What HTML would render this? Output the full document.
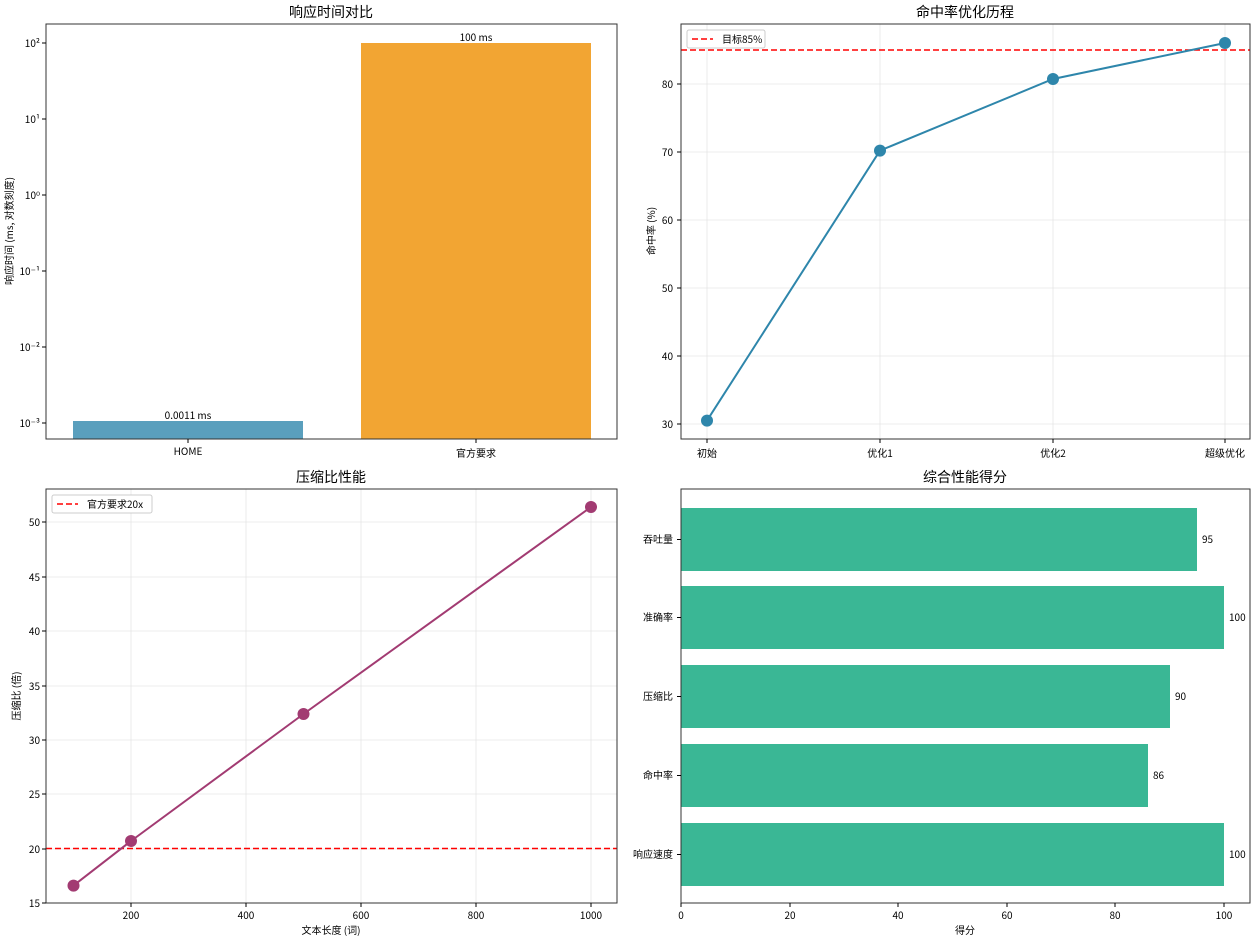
<!DOCTYPE html>
<html><head><meta charset="utf-8"><style>
body{margin:0;background:#fff}
svg{display:block;font-family:"Liberation Sans","Noto Sans CJK SC",sans-serif}
.t{font-size:14px;fill:#000;text-anchor:middle;font-family:"Noto Sans CJK SC","Liberation Sans",sans-serif}
.k{font-size:10px;fill:#000;font-family:"Noto Sans CJK SC","Liberation Sans",sans-serif}
.g{stroke:#e6e6e6;stroke-width:0.8}
.ax{fill:none;stroke:#333;stroke-width:1}
.tk line{stroke:#000;stroke-width:1}
</style></head><body>
<svg width="1251" height="940" viewBox="0 0 1251 940">
<!-- Panel 1 -->
<text class="t" x="331" y="17">响应时间对比</text>
<rect x="73" y="421" width="230" height="18" fill="#5a9fbd"/>
<rect x="361" y="43" width="230" height="396" fill="#f2a533"/>
<text class="k" x="188" y="419" text-anchor="middle">0.0011 ms</text>
<text class="k" x="476" y="41" text-anchor="middle">100 ms</text>
<rect class="ax" x="46" y="24" width="571" height="415"/>
<g class="k" text-anchor="end">
<text x="40" y="47">10²</text><text x="40" y="123">10¹</text><text x="40" y="199">10⁰</text>
<text x="40" y="275">10⁻¹</text><text x="40" y="351">10⁻²</text><text x="40" y="427">10⁻³</text>
</g>
<g stroke="#000" stroke-width="1">
<line x1="42" y1="43" x2="46" y2="43"/><line x1="42" y1="119" x2="46" y2="119"/><line x1="42" y1="195" x2="46" y2="195"/>
<line x1="42" y1="271" x2="46" y2="271"/><line x1="42" y1="347" x2="46" y2="347"/><line x1="42" y1="423" x2="46" y2="423"/>
<line x1="188" y1="439" x2="188" y2="443"/><line x1="476" y1="439" x2="476" y2="443"/>
</g>
<text class="k" x="188" y="455" text-anchor="middle">HOME</text>
<text class="k" x="476" y="457" text-anchor="middle">官方要求</text>
<text class="k" transform="translate(13,231) rotate(-90)" text-anchor="middle">响应时间 (ms, 对数刻度)</text>

<!-- Panel 2 -->
<text class="t" x="965" y="17">命中率优化历程</text>
<g class="g">
<line x1="681" y1="84" x2="1250" y2="84"/><line x1="681" y1="152" x2="1250" y2="152"/><line x1="681" y1="220" x2="1250" y2="220"/>
<line x1="681" y1="288" x2="1250" y2="288"/><line x1="681" y1="356" x2="1250" y2="356"/><line x1="681" y1="424" x2="1250" y2="424"/>
<line x1="707" y1="24" x2="707" y2="439"/><line x1="880" y1="24" x2="880" y2="439"/><line x1="1053" y1="24" x2="1053" y2="439"/><line x1="1225" y1="24" x2="1225" y2="439"/>
</g>
<line x1="681" y1="50" x2="1250" y2="50" stroke="#f00" stroke-width="1.5" stroke-dasharray="6,3"/>
<polyline points="707,420.6 880,150.6 1053,79 1225,43" fill="none" stroke="#2e86ab" stroke-width="2"/>
<g fill="#2e86ab"><circle cx="707" cy="420.6" r="6"/><circle cx="880" cy="150.6" r="6"/><circle cx="1053" cy="79" r="6"/><circle cx="1225" cy="43" r="6"/></g>
<rect class="ax" x="681" y="24" width="569" height="415"/>
<g class="tk">
<line x1="677" y1="84" x2="681" y2="84"/><line x1="677" y1="152" x2="681" y2="152"/><line x1="677" y1="220" x2="681" y2="220"/>
<line x1="677" y1="288" x2="681" y2="288"/><line x1="677" y1="356" x2="681" y2="356"/><line x1="677" y1="424" x2="681" y2="424"/>
<line x1="707" y1="439" x2="707" y2="443"/><line x1="880" y1="439" x2="880" y2="443"/><line x1="1053" y1="439" x2="1053" y2="443"/><line x1="1225" y1="439" x2="1225" y2="443"/>
</g>
<rect x="687" y="30" width="78" height="18" fill="#fff" stroke="#ccc" rx="2"/>
<line x1="692" y1="39" x2="713" y2="39" stroke="#f00" stroke-width="1.5" stroke-dasharray="6,3"/>
<text class="k" x="722" y="43">目标85%</text>
<g class="k" text-anchor="end">
<text x="673" y="88">80</text><text x="673" y="156">70</text><text x="673" y="224">60</text>
<text x="673" y="292">50</text><text x="673" y="360">40</text><text x="673" y="428">30</text>
</g>
<g class="k" text-anchor="middle">
<text x="707" y="457">初始</text><text x="880" y="457">优化1</text><text x="1053" y="457">优化2</text><text x="1225" y="457">超级优化</text>
</g>
<text class="k" transform="translate(655,231) rotate(-90)" text-anchor="middle">命中率 (%)</text>

<!-- Panel 3 -->
<text class="t" x="331" y="482">压缩比性能</text>
<g class="g">
<line x1="46" y1="522" x2="617" y2="522"/><line x1="46" y1="577" x2="617" y2="577"/><line x1="46" y1="631" x2="617" y2="631"/>
<line x1="46" y1="686" x2="617" y2="686"/><line x1="46" y1="740" x2="617" y2="740"/><line x1="46" y1="794" x2="617" y2="794"/>
<line x1="46" y1="849" x2="617" y2="849"/>
<line x1="131" y1="489" x2="131" y2="903"/><line x1="246" y1="489" x2="246" y2="903"/><line x1="361" y1="489" x2="361" y2="903"/>
<line x1="476" y1="489" x2="476" y2="903"/><line x1="591" y1="489" x2="591" y2="903"/>
</g>
<line x1="46" y1="848.5" x2="617" y2="848.5" stroke="#f00" stroke-width="1.5" stroke-dasharray="6,3"/>
<polyline points="73.5,885.6 131,841 303.5,714 591,507" fill="none" stroke="#a23b72" stroke-width="2"/>
<g fill="#a23b72"><circle cx="73.5" cy="885.6" r="6"/><circle cx="131" cy="841" r="6"/><circle cx="303.5" cy="714" r="6"/><circle cx="591" cy="507" r="6"/></g>
<rect class="ax" x="46" y="489" width="571" height="414"/>
<g class="tk">
<line x1="42" y1="522" x2="46" y2="522"/><line x1="42" y1="577" x2="46" y2="577"/><line x1="42" y1="631" x2="46" y2="631"/>
<line x1="42" y1="686" x2="46" y2="686"/><line x1="42" y1="740" x2="46" y2="740"/><line x1="42" y1="794" x2="46" y2="794"/>
<line x1="42" y1="849" x2="46" y2="849"/><line x1="42" y1="903" x2="46" y2="903"/>
<line x1="131" y1="903" x2="131" y2="907"/><line x1="246" y1="903" x2="246" y2="907"/><line x1="361" y1="903" x2="361" y2="907"/>
<line x1="476" y1="903" x2="476" y2="907"/><line x1="591" y1="903" x2="591" y2="907"/>
</g>
<rect x="52" y="495" width="100" height="18" fill="#fff" stroke="#ccc" rx="2"/>
<line x1="57" y1="504" x2="78" y2="504" stroke="#f00" stroke-width="1.5" stroke-dasharray="6,3"/>
<text class="k" x="87" y="508">官方要求20x</text>
<g class="k" text-anchor="end">
<text x="40" y="526">50</text><text x="40" y="581">45</text><text x="40" y="635">40</text><text x="40" y="690">35</text>
<text x="40" y="744">30</text><text x="40" y="798">25</text><text x="40" y="853">20</text><text x="40" y="907">15</text>
</g>
<g class="k" text-anchor="middle">
<text x="131" y="919">200</text><text x="246" y="919">400</text><text x="361" y="919">600</text><text x="476" y="919">800</text><text x="591" y="919">1000</text>
</g>
<text class="k" x="331" y="934" text-anchor="middle">文本长度 (词)</text>
<text class="k" transform="translate(20,696) rotate(-90)" text-anchor="middle">压缩比 (倍)</text>

<!-- Panel 4 -->
<text class="t" x="965" y="482">综合性能得分</text>
<g fill="#3ab795">
<rect x="681" y="508" width="516" height="63"/>
<rect x="681" y="586" width="543" height="63"/>
<rect x="681" y="665" width="489" height="63"/>
<rect x="681" y="744" width="467" height="63"/>
<rect x="681" y="823" width="543" height="63"/>
</g>
<rect class="ax" x="681" y="489" width="569" height="414"/>
<g class="tk">
<line x1="677" y1="539.5" x2="681" y2="539.5"/><line x1="677" y1="617.5" x2="681" y2="617.5"/><line x1="677" y1="696.5" x2="681" y2="696.5"/>
<line x1="677" y1="775.5" x2="681" y2="775.5"/><line x1="677" y1="854.5" x2="681" y2="854.5"/>
<line x1="681" y1="903" x2="681" y2="907"/><line x1="790" y1="903" x2="790" y2="907"/><line x1="898" y1="903" x2="898" y2="907"/>
<line x1="1007" y1="903" x2="1007" y2="907"/><line x1="1115" y1="903" x2="1115" y2="907"/><line x1="1224" y1="903" x2="1224" y2="907"/>
</g>
<g class="k">
<text x="1202" y="543">95</text><text x="1229" y="621">100</text><text x="1175" y="700">90</text>
<text x="1153" y="779">86</text><text x="1229" y="858">100</text>
</g>
<g class="k" text-anchor="end">
<text x="673" y="543">吞吐量</text><text x="673" y="621">准确率</text><text x="673" y="700">压缩比</text>
<text x="673" y="779">命中率</text><text x="673" y="858">响应速度</text>
</g>
<g class="k" text-anchor="middle">
<text x="681" y="919">0</text><text x="790" y="919">20</text><text x="898" y="919">40</text>
<text x="1007" y="919">60</text><text x="1115" y="919">80</text><text x="1224" y="919">100</text>
</g>
<text class="k" x="965" y="934" text-anchor="middle">得分</text>
</svg>
</body></html>
